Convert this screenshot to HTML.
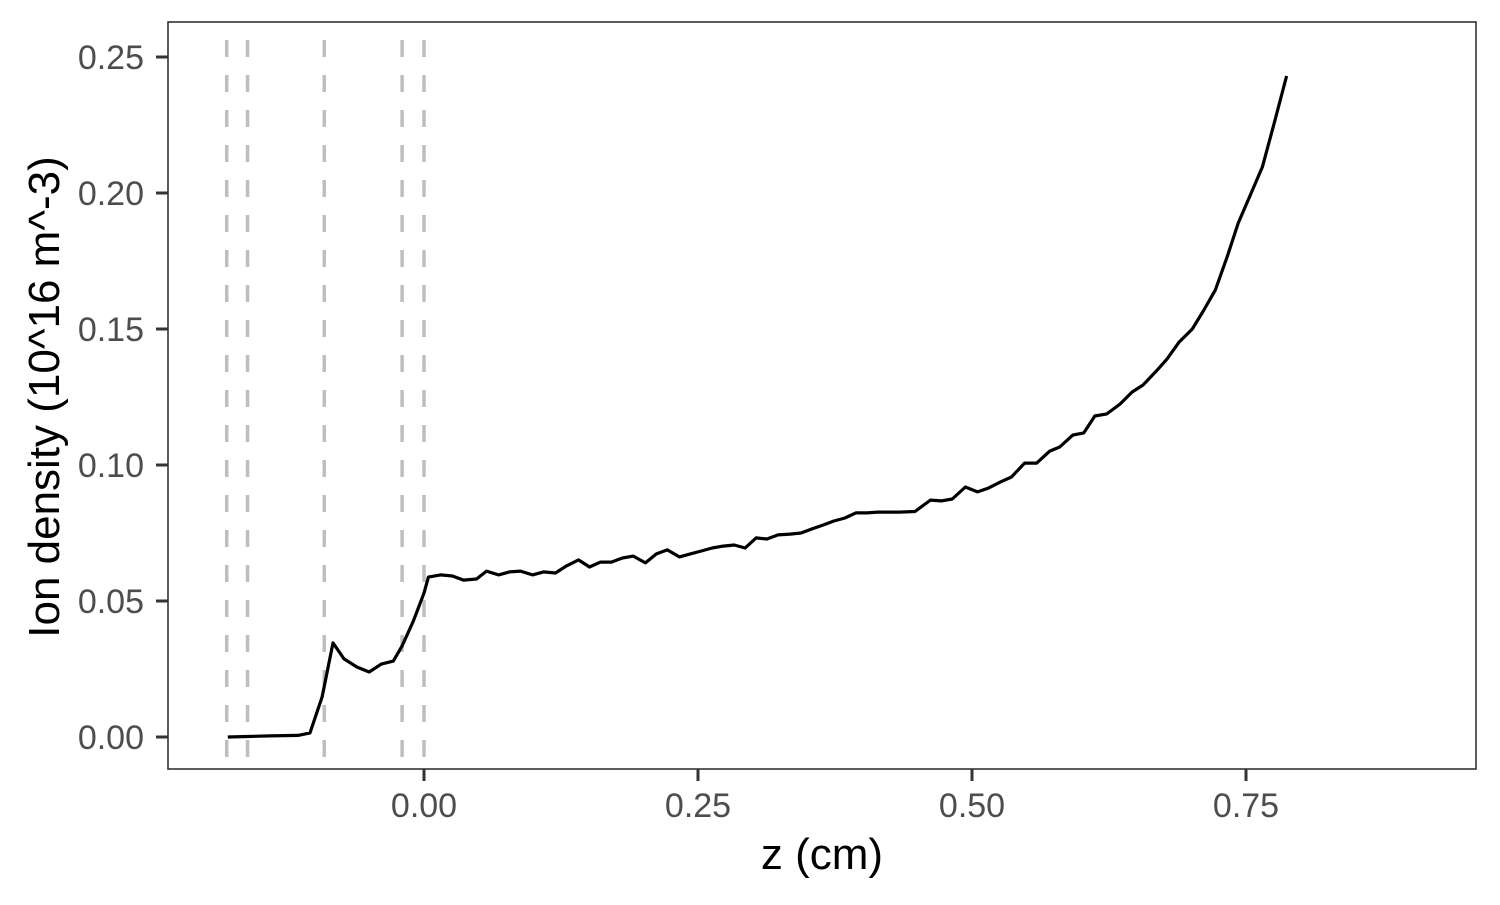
<!DOCTYPE html>
<html><head><meta charset="utf-8"><style>
html,body{margin:0;padding:0;background:#fff;}
svg text{font-family:"Liberation Sans",Arial,sans-serif;}
</style></head><body>
<svg id="chart" width="1500" height="900" xmlns="http://www.w3.org/2000/svg">
<rect x="0" y="0" width="1500" height="900" fill="#fff"/>
<g id="vlines"></g>
<g id="series"></g>
<rect x="168" y="22" width="1308" height="747" fill="none" stroke="#333" stroke-width="1.6"/>
<g id="xaxis"></g>
<g id="yaxis"></g>
<text x="822" y="869" font-size="44" text-anchor="middle" fill="#000">z (cm)</text>
<text transform="translate(59,397) rotate(-90)" font-size="44" text-anchor="middle" fill="#000">Ion density (10^16 m^-3)</text>
</svg>
<script>
const zValues=[-0.179,-0.161,-0.141,-0.115,-0.104,-0.093,-0.083,-0.073,-0.061,-0.050,-0.039,-0.028,-0.020,-0.010,0.000,0.004,0.015,0.026,0.036,0.048,0.057,0.068,0.078,0.088,0.099,0.109,0.120,0.130,0.141,0.151,0.161,0.171,0.181,0.191,0.202,0.212,0.222,0.233,0.243,0.253,0.263,0.273,0.283,0.293,0.303,0.313,0.323,0.334,0.344,0.354,0.364,0.374,0.384,0.394,0.404,0.414,0.424,0.434,0.448,0.462,0.472,0.482,0.494,0.505,0.515,0.526,0.536,0.548,0.559,0.571,0.580,0.592,0.602,0.612,0.623,0.635,0.646,0.656,0.669,0.678,0.689,0.701,0.711,0.722,0.733,0.743,0.754,0.765,0.776,0.787];
const densityValues=[0,0.0002,0.0004,0.0006,0.0015,0.0147,0.0346,0.0287,0.0257,0.0239,0.0268,0.0279,0.0335,0.0423,0.0529,0.0588,0.0596,0.0592,0.0577,0.0581,0.0610,0.0596,0.0607,0.0610,0.0596,0.0607,0.0603,0.0629,0.0651,0.0625,0.0643,0.0643,0.0658,0.0665,0.0640,0.0673,0.0688,0.0662,0.0673,0.0684,0.0695,0.0702,0.0706,0.0695,0.0732,0.0728,0.0743,0.0746,0.0750,0.0765,0.0779,0.0794,0.0805,0.0824,0.0824,0.0827,0.0827,0.0827,0.0829,0.0871,0.0868,0.0875,0.0919,0.0901,0.0915,0.0938,0.0956,0.1007,0.1007,0.1051,0.1066,0.1110,0.1118,0.1180,0.1188,0.1224,0.1268,0.1294,0.1349,0.1390,0.1452,0.1500,0.1566,0.1643,0.1768,0.1890,0.1993,0.2096,0.2261,0.2430];
const boundaryZ=[-0.180,-0.161,-0.091,-0.020,0.000];
const xTicks=[0,0.25,0.5,0.75];
const xTickLabels=["0.00","0.25","0.50","0.75"];
const yTicks=[0,0.05,0.1,0.15,0.2,0.25];
const yTickLabels=["0.00","0.05","0.10","0.15","0.20","0.25"];

const NS="http://www.w3.org/2000/svg";
function xs(v){return 424+v*1096;}
function ys(v){return 737-v*2720;}
function mk(tag,attrs,parent){const e=document.createElementNS(NS,tag);for(const k in attrs)e.setAttribute(k,attrs[k]);parent.appendChild(e);return e;}

const vg=document.getElementById('vlines');
boundaryZ.forEach(z=>{
  const l=mk('line',{x1:xs(z),x2:xs(z),y1:22,y2:769,stroke:'#bebebe','stroke-width':3.5,'stroke-dasharray':'17 18','stroke-dashoffset':'-18'},vg);
  
  
});

const sg=document.getElementById('series');
const pts=zValues.map((z,i)=>xs(z).toFixed(1)+','+ys(densityValues[i]).toFixed(1)).join(' ');
const pl=mk('polyline',{points:pts,fill:'none',stroke:'#000','stroke-width':3.2,'stroke-linejoin':'round'},sg);



const xg=document.getElementById('xaxis');
xTicks.forEach((t,i)=>{
  const tk=mk('line',{x1:xs(t),x2:xs(t),y1:769,y2:781,stroke:'#333','stroke-width':3},xg);
  
  
  const tx=mk('text',{x:xs(t),y:817,'font-size':34,'text-anchor':'middle',fill:'#4d4d4d'},xg);
  tx.textContent=xTickLabels[i];
  
  
});
const yg=document.getElementById('yaxis');
yTicks.forEach((t,i)=>{
  const tk=mk('line',{x1:156,x2:168,y1:ys(t),y2:ys(t),stroke:'#333','stroke-width':3},yg);
  
  
  const tx=mk('text',{x:144,y:ys(t)+12,'font-size':34,'text-anchor':'end',fill:'#4d4d4d'},yg);
  tx.textContent=yTickLabels[i];
  
  
});
</script>
</body></html>
